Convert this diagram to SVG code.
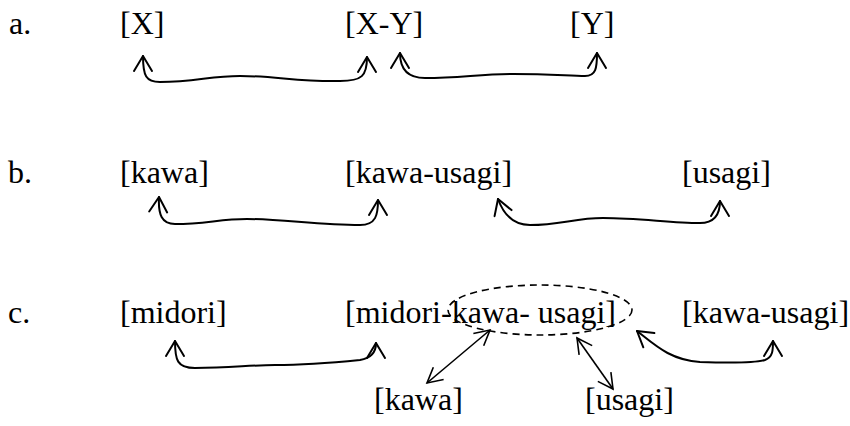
<svg xmlns="http://www.w3.org/2000/svg" width="850" height="426" viewBox="0 0 850 426">
<style>
text{font-family:"Liberation Serif","Times New Roman",serif;font-size:32px;fill:#000}
.c{fill:none;stroke:#000;stroke-width:2;stroke-linecap:round;marker-start:url(#h);marker-end:url(#h)}
.d{fill:none;stroke:#000;stroke-width:1.6;marker-start:url(#h2);marker-end:url(#h2)}
</style>
<defs>
<marker id="h" viewBox="-20 -12 24 24" refX="0" refY="0" markerWidth="24" markerHeight="24" markerUnits="userSpaceOnUse" orient="auto-start-reverse">
<path d="M-15,-9 L0,0 L-15,9" fill="none" stroke="#000" stroke-width="2" stroke-linecap="round" stroke-linejoin="round"/>
</marker>
<marker id="h2" viewBox="-20 -12 24 24" refX="0" refY="0" markerWidth="24" markerHeight="24" markerUnits="userSpaceOnUse" orient="auto-start-reverse">
<path d="M-15,-8 L0,0 L-15,8" fill="none" stroke="#000" stroke-width="1.6"/>
</marker>
</defs>
<g id="labels">
<text x="9" y="34">a.</text>
<text x="8" y="183">b.</text>
<text x="8" y="323">c.</text>
</g>
<g id="rowA">
<g id="a-X"><text x="120" y="34">[X]</text></g>
<g id="a-XY"><text x="345" y="34">[X-Y]</text></g>
<g id="a-Y"><text x="570" y="34">[Y]</text></g>
</g>
<g id="rowB">
<g id="b-kawa"><text x="120" y="183">[kawa]</text></g>
<g id="b-kawausagi"><text x="345" y="183">[kawa-usagi]</text></g>
<g id="b-usagi"><text x="682" y="183">[usagi]</text></g>
</g>
<g id="rowC">
<g id="c-midori"><text x="120" y="323">[midori]</text></g>
<g id="c-compound"><text x="345" y="323">[midori-kawa- usagi]</text>
<ellipse cx="540" cy="310" rx="92" ry="25" fill="none" stroke="#000" stroke-width="1.6" stroke-dasharray="7 5"/></g>
<g id="c-kawausagi"><text x="682" y="323">[kawa-usagi]</text></g>
<g id="c-kawa"><text x="374" y="410">[kawa]</text></g>
<g id="c-usagi"><text x="585" y="410">[usagi]</text></g>
</g>
<g id="connectors">
<path class="c" d="M143,56 C143,76 146,82 160,82 C195,82 210,76 240,76 C275,76 300,82 340,81 C362,81 367,76 367,57"/>
<path class="c" d="M400,53 C400,70 408,78 425,78 C460,78 480,74 513,74 C550,74 570,76 585,76 C596,76 597,68 597,53"/>
<path class="c" d="M159,197 C158,215 162,224 175,224 C205,224 220,219 247,219 C280,219 320,225 360,225 C376,225 378,215 378,200"/>
<path class="c" d="M498,199 C503,213 512,225 530,225 C560,225 575,218 603,218 C640,218 670,223 700,223 C716,223 720,213 720,201"/>
<path class="c" d="M175,341 C175,360 177,368 195,368 C230,368 250,365 275,365 C310,365 340,362 360,360 C372,358 376,352 376,343"/>
<path class="c" d="M637,331 C655,345 670,360 700,362 C730,363 755,363 765,360 C773,357 773,350 773,341"/>
<path class="d" d="M490,330 L427,383"/>
<path class="d" d="M577,338 L613,389"/>
</g>
</svg>
